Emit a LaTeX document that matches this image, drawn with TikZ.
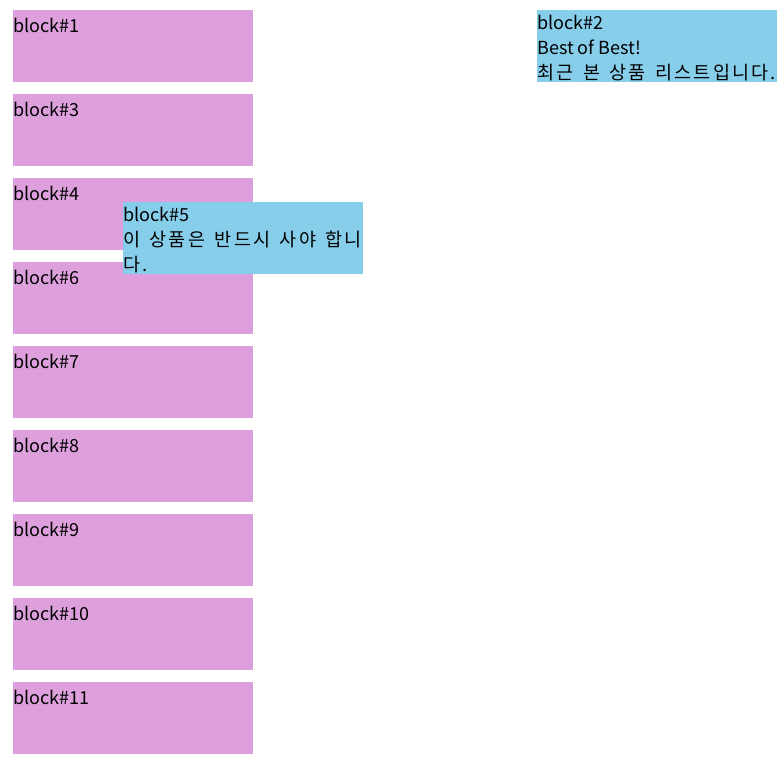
\documentclass[tikz,border=0pt]{standalone}
\usepackage{fontspec}
\setmainfont{Noto Sans CJK KR}
\newfontfamily\korfont{Noto Sans CJK KR}[LetterSpace=12, WordSpace=1.5]
\newcommand\kortext[1]{{\korfont\fontsize{18.5}{25}\selectfont #1}}
\definecolor{plumfill}{HTML}{DDA0DD}
\definecolor{skyfill}{HTML}{87CEEB}
\tikzset{
  plumblock/.style={fill=plumfill, anchor=north west, minimum width=240pt, minimum height=72pt, inner sep=0pt, outer sep=0pt},
  skyblock/.style={plumblock, fill=skyfill},
  blocktext/.style={anchor=north west, inner sep=0pt, align=left, font=\fontsize{18}{25}\selectfont, execute at begin node=\strut}
}
\begin{document}
\begin{tikzpicture}[x=1pt, y=-1pt]
\useasboundingbox (0,0) rectangle (784,772);
% Left column
\node[plumblock] (b1) at (13, 10) {};
\node[blocktext] (t1) at ([yshift=-5pt]b1.north west) {block\#1};
\node[plumblock] (b3) at (13, 94) {};
\node[blocktext] (t3) at ([yshift=-5pt]b3.north west) {block\#3};
\node[plumblock] (b4) at (13, 178) {};
\node[blocktext] (t4) at ([yshift=-5pt]b4.north west) {block\#4};
\node[plumblock] (b6) at (13, 262) {};
\node[blocktext] (t6) at ([yshift=-5pt]b6.north west) {block\#6};
\node[plumblock] (b7) at (13, 346) {};
\node[blocktext] (t7) at ([yshift=-5pt]b7.north west) {block\#7};
\node[plumblock] (b8) at (13, 430) {};
\node[blocktext] (t8) at ([yshift=-5pt]b8.north west) {block\#8};
\node[plumblock] (b9) at (13, 514) {};
\node[blocktext] (t9) at ([yshift=-5pt]b9.north west) {block\#9};
\node[plumblock] (b10) at (13, 598) {};
\node[blocktext] (t10) at ([yshift=-5pt]b10.north west) {block\#10};
\node[plumblock] (b11) at (13, 682) {};
\node[blocktext] (t11) at ([yshift=-5pt]b11.north west) {block\#11};
% Floating blocks
\node[skyblock] (b2) at (537, 10) {};
\node[blocktext] (t2) at ([yshift=-5pt]b2.north west) {block\#2\\Best of Best!\\\kortext{최근 본 상품 리스트입니다.}};
\node[skyblock] (b5) at (123, 202) {};
\node[blocktext] (t5) at ([yshift=-5pt]b5.north west) {block\#5\\\kortext{이 상품은 반드시 사야 합니}\\\kortext{다.}};
\end{tikzpicture}
\end{document}
